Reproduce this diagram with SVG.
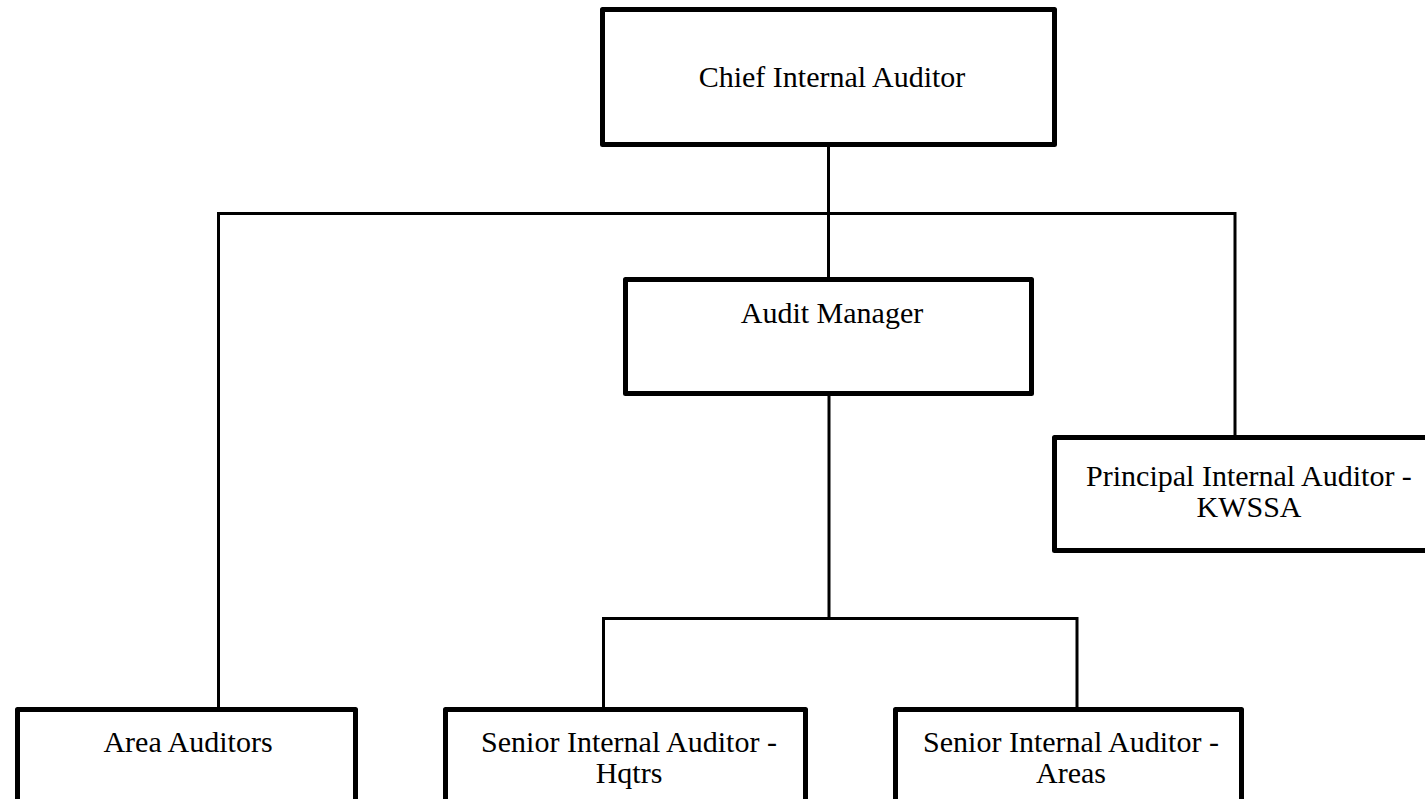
<svg xmlns="http://www.w3.org/2000/svg" width="1425" height="799" viewBox="0 0 1425 799">
  <style>
    .box { fill: #ffffff; stroke: #000000; stroke-width: 5; stroke-linejoin: round; }
    .link { fill: none; stroke: #000000; stroke-width: 3; stroke-linecap: square; }
    .label { font-family: "Liberation Serif", "Times New Roman", serif; font-size: 30px; fill: #000000; text-anchor: middle; }
  </style>
  <rect width="1425" height="799" fill="#ffffff"/>

  <!-- reporting lines -->
  <g id="connectors">
    <line class="link" x1="828.5" y1="147" x2="828.5" y2="277"/>
    <polyline class="link" points="218.5,707 218.5,213.5 1235,213.5 1235,435"/>
    <line class="link" x1="829" y1="396" x2="829" y2="618.5"/>
    <polyline class="link" points="603.5,707 603.5,618.5 1077,618.5 1077,707"/>
  </g>

  <g id="chief-internal-auditor">
    <rect class="box" x="602.5" y="9.5" width="452" height="135"/>
    <text class="label" x="832" y="87">Chief Internal Auditor</text>
  </g>

  <g id="audit-manager">
    <rect class="box" x="625.5" y="279.5" width="406" height="114"/>
    <text class="label" x="832" y="323">Audit Manager</text>
  </g>

  <g id="principal-internal-auditor">
    <rect class="box" x="1054.5" y="437.5" width="400" height="113"/>
    <text class="label" x="1249" y="486">Principal Internal Auditor -<tspan x="1249" dy="31">KWSSA</tspan></text>
  </g>

  <g id="area-auditors">
    <rect class="box" x="17.5" y="709.5" width="338" height="110"/>
    <text class="label" x="188" y="752">Area Auditors</text>
  </g>

  <g id="senior-auditor-hqtrs">
    <rect class="box" x="445.5" y="709.5" width="360" height="110"/>
    <text class="label" x="629" y="752">Senior Internal Auditor -<tspan x="629" dy="31">Hqtrs</tspan></text>
  </g>

  <g id="senior-auditor-areas">
    <rect class="box" x="895.5" y="709.5" width="346" height="110"/>
    <text class="label" x="1071" y="752">Senior Internal Auditor -<tspan x="1071" dy="31">Areas</tspan></text>
  </g>
</svg>
